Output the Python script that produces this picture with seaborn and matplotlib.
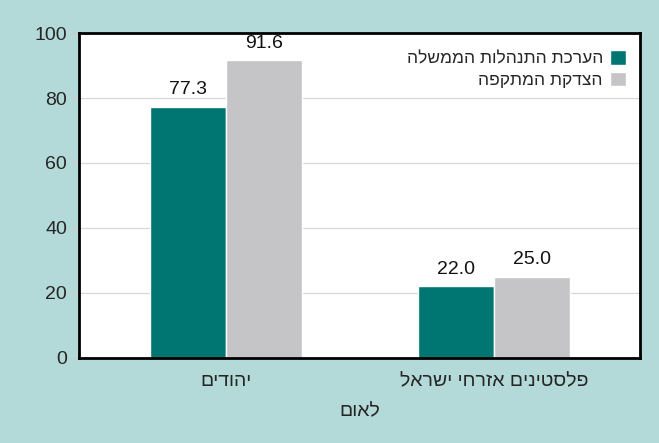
import matplotlib
matplotlib.use("Agg")
import matplotlib.pyplot as plt
import seaborn as sns
import pandas as pd

# נתונים
groups = ["יהודים", "פלסטינים אזרחי ישראל"]
series = ["הערכת התנהלות הממשלה", "הצדקת המתקפה"]
gov_values = [77.3, 22.0]
just_values = [91.6, 25.0]
y_ticks = [0, 20, 40, 60, 80, 100]
x_title = "לאום"

def rtl(s):
    # matplotlib draws left to right only, so flip the Hebrew by hand
    return s[::-1]

df = pd.DataFrame({
    "group": [rtl(g) for g in groups] * 2,
    "series": [rtl(series[0])] * 2 + [rtl(series[1])] * 2,
    "value": gov_values + just_values,
})

bg = "#b3d9d8"
colors = ["#007672", "#c5c5c8"]

sns.set_style("white")
plt.rcParams['font.family'] = ['Liberation Sans', 'DejaVu Sans']

fig = plt.figure(figsize=(6.59, 4.43), dpi=100, facecolor=bg)
ax = fig.add_axes([0.1199, 0.1919, 0.8513, 0.7336])

sns.barplot(data=df, x="group", y="value", hue="series", palette=colors,
            width=0.567, gap=0, saturation=1, ax=ax, legend=True)

for c in ax.containers:
    ax.bar_label(c, fmt="%.1f", padding=6, fontsize=14, color="#111111")

ax.set_ylim(0, 100)
ax.set_xlim(-0.549, 1.545)
ax.set_yticks(y_ticks)
ax.yaxis.grid(True, color="#d8d8d8", linewidth=0.9)
ax.set_axisbelow(True)
ax.set_ylabel("")
ax.set_xlabel(rtl(x_title), fontsize=14, labelpad=9)
ax.tick_params(axis="y", labelsize=14, length=5, color="#d9c8c8", left=True)
ax.tick_params(axis="x", labelsize=14, length=0, pad=11)
for s in ax.spines.values():
    s.set_visible(True)
    s.set_color("black")
    s.set_linewidth(2)

leg = ax.legend(loc="upper right", bbox_to_anchor=(1.002, 0.995), frameon=False,
                markerfirst=False, fontsize=12.5, handlelength=0.9,
                handleheight=0.9, handletextpad=0.4, labelspacing=0.3)

fig.savefig("out.png", dpi=100, facecolor=bg)
